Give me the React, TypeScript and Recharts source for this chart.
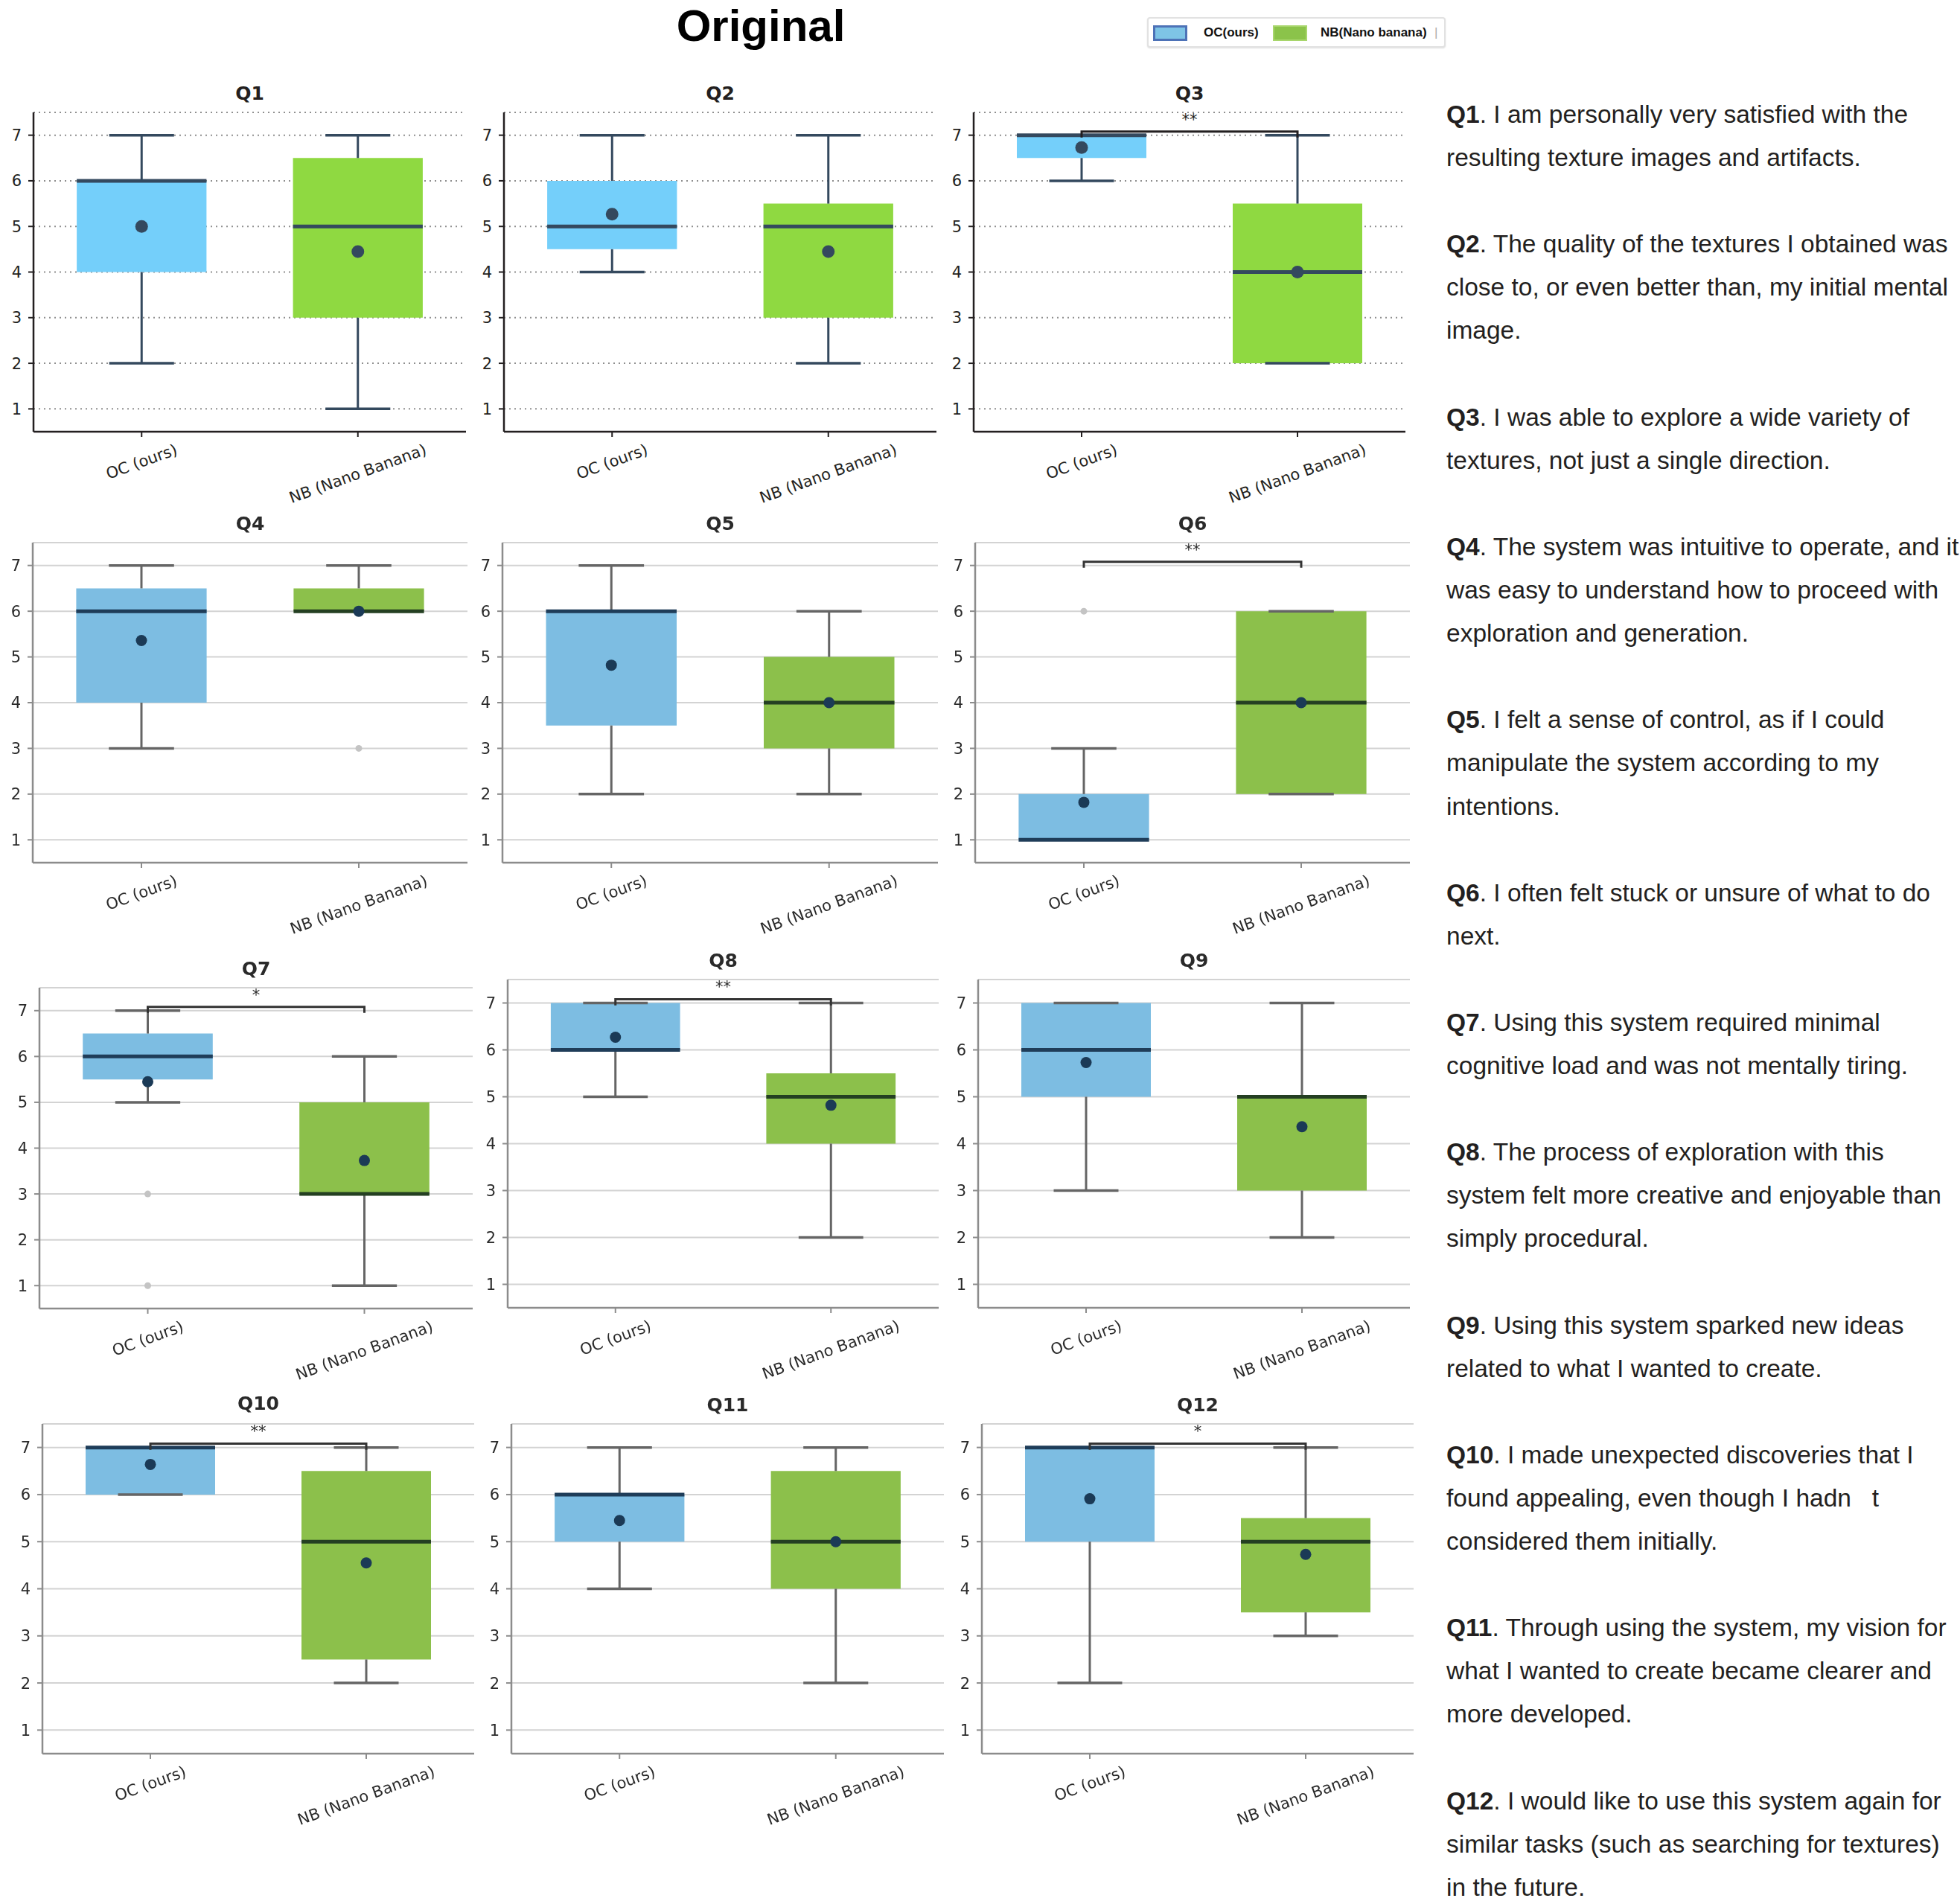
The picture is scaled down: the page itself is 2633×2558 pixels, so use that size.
import React from 'react';
import {
  CartesianGrid,
  ComposedChart,
  Line,
  ReferenceArea,
  ReferenceLine,
  Scatter,
  XAxis,
  YAxis
} from 'recharts';

const questions = ['Q1', 'Q2', 'Q3', 'Q4', 'Q5', 'Q6', 'Q7', 'Q8', 'Q9', 'Q10', 'Q11', 'Q12'];
const groups = ['OC (ours)', 'NB (Nano Banana)'];
const yTicks = [1, 2, 3, 4, 5, 6, 7];

// OC (ours): whisker ends, quartiles, median, mean, fliers
const ocLow = [2, 4, 6, 3, 2, 1, 5, 5, 3, 6, 4, 2];
const ocQ1 = [4, 4.5, 6.5, 4, 3.5, 1, 5.5, 6, 5, 6, 5, 5];
const ocMedian = [6, 5, 7, 6, 6, 1, 6, 6, 6, 7, 6, 7];
const ocQ3 = [6, 6, 7, 6.5, 6, 2, 6.5, 7, 7, 7, 6, 7];
const ocHigh = [7, 7, 7, 7, 7, 3, 7, 7, 7, 7, 7, 7];
const ocMean = [5.0, 5.27, 6.73, 5.36, 4.82, 1.82, 5.45, 6.27, 5.73, 6.64, 5.45, 5.91];
const ocOutliers = [[], [], [], [], [], [6], [3, 1], [], [], [], [], []];

// NB (Nano Banana)
const nbLow = [1, 2, 2, 6, 2, 2, 1, 2, 2, 2, 2, 3];
const nbQ1 = [3, 3, 2, 6, 3, 2, 3, 4, 3, 2.5, 4, 3.5];
const nbMedian = [5, 5, 4, 6, 4, 4, 3, 5, 5, 5, 5, 5];
const nbQ3 = [6.5, 5.5, 5.5, 6.5, 5, 6, 5, 5.5, 5, 6.5, 6.5, 5.5];
const nbHigh = [7, 7, 7, 7, 6, 6, 6, 7, 7, 7, 7, 7];
const nbMean = [4.45, 4.45, 4.0, 6.0, 4.0, 4.0, 3.73, 4.82, 4.36, 4.55, 5.0, 4.73];
const nbOutliers = [[], [], [], [3], [], [], [], [], [], [], [], []];

const significance = ['', '', '**', '', '', '**', '*', '**', '', '**', '', '*'];

const descriptions = [
  ['I am personally very satisfied with the', 'resulting texture images and artifacts.'],
  ['The quality of the textures I obtained was', 'close to, or even better than, my initial mental', 'image.'],
  ['I was able to explore a wide variety of', 'textures, not just a single direction.'],
  ['The system was intuitive to operate, and it', 'was easy to understand how to proceed with', 'exploration and generation.'],
  ['I felt a sense of control, as if I could', 'manipulate the system according to my', 'intentions.'],
  ['I often felt stuck or unsure of what to do', 'next.'],
  ['Using this system required minimal', 'cognitive load and was not mentally tiring.'],
  ['The process of exploration with this', 'system felt more creative and enjoyable than', 'simply procedural.'],
  ['Using this system sparked new ideas', 'related to what I wanted to create.'],
  ['I made unexpected discoveries that I', 'found appealing, even though I hadn   t', 'considered them initially.'],
  ['Through using the system, my vision for', 'what I wanted to create became clearer and', 'more developed.'],
  ['I would like to use this system again for', 'similar tasks (such as searching for textures)', 'in the future.']
];

// plot-area frames on the page (y domain 0.5..7.5, x domain -0.5..1.5)
const frames = [
  { left: 45, right: 626, top: 151, bottom: 580, titleY: 126 },
  { left: 677, right: 1258, top: 151, bottom: 580, titleY: 126 },
  { left: 1308, right: 1888, top: 151, bottom: 580, titleY: 126 },
  { left: 44, right: 628, top: 729, bottom: 1159, titleY: 704 },
  { left: 675, right: 1260, top: 729, bottom: 1159, titleY: 704 },
  { left: 1310, right: 1894, top: 729, bottom: 1159, titleY: 704 },
  { left: 53, right: 635, top: 1327, bottom: 1758, titleY: 1302 },
  { left: 682, right: 1261, top: 1316, bottom: 1757, titleY: 1291 },
  { left: 1314, right: 1894, top: 1316, bottom: 1757, titleY: 1291 },
  { left: 57, right: 637, top: 1913, bottom: 2356, titleY: 1886 },
  { left: 687, right: 1268, top: 1913, bottom: 2356, titleY: 1888 },
  { left: 1319, right: 1899, top: 1913, bottom: 2356, titleY: 1888 }
];

const crisp = {
  fills: ['#74cffa', '#8fd941'],
  medians: ['#34495e', '#34495e'],
  whisker: '#34495e',
  mean: '#34495e',
  axis: '#231f20',
  grid: '#8f8f8f',
  gridDash: '2 5',
  text: '#231f20',
  flier: '#bdbdbd',
  bracket: '#231f20'
};

const soft = {
  fills: ['#7dbde2', '#8cc04b'],
  medians: ['#1f3d59', '#243f22'],
  whisker: '#656565',
  mean: '#1b3a56',
  axis: '#8c8c8c',
  grid: '#d3d3d3',
  gridDash: undefined,
  text: '#2a2a2a',
  flier: '#c4c4c4',
  bracket: '#333333'
};

const FONT = '"DejaVu Sans", sans-serif';
const Y_AXIS_W = 60;
const X_AXIS_H = 120;
const MARGIN_TOP = 4;
const MARGIN_RIGHT = 8;

let measureCtx: CanvasRenderingContext2D | null = null;
const textWidth = (s: string, font: string) => {
  if (!measureCtx && typeof document !== 'undefined') {
    measureCtx = document.createElement('canvas').getContext('2d');
  }
  if (!measureCtx) return s.length * 12;
  measureCtx.font = font;
  return measureCtx.measureText(s).width;
};

// rotated category label, anchored so the rotated box hangs below the tick
const GroupTick = (props: any) => {
  const { x, y, payload, fill } = props;
  const label = groups[payload.value] ?? '';
  const angle = (20 * Math.PI) / 180;
  const w = textWidth(label, `21px ${FONT}`);
  const cy = y + 5 + (w * Math.sin(angle) + 24 * Math.cos(angle)) / 2;
  return (
    <text
      x={x}
      y={cy}
      textAnchor="middle"
      dominantBaseline="central"
      fontSize={21}
      fontFamily={FONT}
      fill={fill}
      transform={`rotate(-20, ${x}, ${cy})`}
    >
      {label}
    </text>
  );
};

function Panel({ idx }: { idx: number }) {
  const f = frames[idx];
  const isSoft = idx >= 3;
  const t = isSoft ? soft : crisp;
  const width = f.right - f.left + Y_AXIS_W + MARGIN_RIGHT;
  const height = f.bottom - f.top + MARGIN_TOP + X_AXIS_H;

  const stats = [
    { lo: ocLow[idx], q1: ocQ1[idx], med: ocMedian[idx], q3: ocQ3[idx], hi: ocHigh[idx] },
    { lo: nbLow[idx], q1: nbQ1[idx], med: nbMedian[idx], q3: nbQ3[idx], hi: nbHigh[idx] }
  ];
  const means = [
    { x: 0, y: ocMean[idx] },
    { x: 1, y: nbMean[idx] }
  ];
  const fliers = [
    ...ocOutliers[idx].map((v) => ({ x: 0, y: v })),
    ...nbOutliers[idx].map((v) => ({ x: 1, y: v }))
  ];
  const sig = significance[idx];
  const bracket = [
    { x: 0, y: 6.95 },
    { x: 0, y: 7.08 },
    { x: 1, y: 7.08 },
    { x: 1, y: 6.95 }
  ];
  const blur = isSoft ? 'blur(0.6px)' : undefined;

  return (
    <>
      <div
        style={{
          position: 'absolute',
          left: f.left,
          width: f.right - f.left,
          top: f.titleY - 17,
          height: 34,
          lineHeight: '34px',
          textAlign: 'center',
          fontFamily: FONT,
          fontWeight: 'bold',
          fontSize: 25,
          color: t.text,
          filter: blur
        }}
      >
        {questions[idx]}
      </div>
      <div
        style={{
          position: 'absolute',
          left: f.left - Y_AXIS_W,
          top: f.top - MARGIN_TOP,
          filter: blur
        }}
      >
        <ComposedChart
          width={width}
          height={height}
          margin={{ top: MARGIN_TOP, right: MARGIN_RIGHT, bottom: 0, left: 0 }}
        >
          <CartesianGrid
            vertical={false}
            stroke={t.grid}
            strokeWidth={2}
            strokeDasharray={t.gridDash}
          />
          <XAxis
            type="number"
            dataKey="x"
            domain={[-0.5, 1.5]}
            ticks={[0, 1]}
            allowDataOverflow
            height={X_AXIS_H}
            tickSize={7}
            tickMargin={0}
            interval={0}
            axisLine={{ stroke: t.axis, strokeWidth: 2.5 }}
            tickLine={{ stroke: t.axis, strokeWidth: 2 }}
            tick={(p: any) => <GroupTick {...p} fill={t.text} />}
          />
          <YAxis
            type="number"
            dataKey="y"
            domain={[0.5, 7.5]}
            ticks={yTicks}
            allowDataOverflow
            width={Y_AXIS_W}
            tickSize={7}
            tickMargin={9}
            axisLine={{ stroke: t.axis, strokeWidth: 2.5 }}
            tickLine={{ stroke: t.axis, strokeWidth: 2 }}
            tick={{ fill: t.text, fontSize: 21, fontFamily: FONT }}
          />

          {stats.map((s, i) => (
            <ReferenceArea
              key={`box-${i}`}
              x1={i - 0.3}
              x2={i + 0.3}
              y1={s.q1}
              y2={s.q3}
              fill={t.fills[i]}
              fillOpacity={1}
              stroke="none"
            />
          ))}
          {stats.map((s, i) =>
            s.lo < s.q1 ? (
              <ReferenceLine
                key={`wl-${i}`}
                segment={[{ x: i, y: s.lo }, { x: i, y: s.q1 }]}
                stroke={t.whisker}
                strokeWidth={3}
              />
            ) : null
          )}
          {stats.map((s, i) =>
            s.hi > s.q3 ? (
              <ReferenceLine
                key={`wh-${i}`}
                segment={[{ x: i, y: s.q3 }, { x: i, y: s.hi }]}
                stroke={t.whisker}
                strokeWidth={3}
              />
            ) : null
          )}
          {stats.map((s, i) => (
            <ReferenceLine
              key={`cl-${i}`}
              segment={[{ x: i - 0.15, y: s.lo }, { x: i + 0.15, y: s.lo }]}
              stroke={t.whisker}
              strokeWidth={3.5}
            />
          ))}
          {stats.map((s, i) => (
            <ReferenceLine
              key={`ch-${i}`}
              segment={[{ x: i - 0.15, y: s.hi }, { x: i + 0.15, y: s.hi }]}
              stroke={t.whisker}
              strokeWidth={3.5}
            />
          ))}
          {stats.map((s, i) => (
            <ReferenceLine
              key={`med-${i}`}
              segment={[{ x: i - 0.3, y: s.med }, { x: i + 0.3, y: s.med }]}
              stroke={t.medians[i]}
              strokeWidth={5}
            />
          ))}

          {sig && (
            <Line
              data={bracket}
              dataKey="y"
              type="linear"
              stroke={t.bracket}
              strokeWidth={3}
              dot={false}
              activeDot={false}
              isAnimationActive={false}
            />
          )}
          {sig && (
            <Scatter
              data={[{ x: 0.5, y: 7.34, label: sig }]}
              isAnimationActive={false}
              shape={(p: any) => (
                <text
                  x={p.cx}
                  y={p.cy}
                  textAnchor="middle"
                  dominantBaseline="central"
                  fontSize={21}
                  fontFamily={FONT}
                  fill={t.text}
                >
                  {p.payload.label}
                </text>
              )}
            />
          )}

          {fliers.length > 0 && (
            <Scatter
              data={fliers}
              isAnimationActive={false}
              shape={(p: any) => <circle cx={p.cx} cy={p.cy} r={4.5} fill={t.flier} />}
            />
          )}
          <Scatter
            data={means}
            isAnimationActive={false}
            shape={(p: any) => <circle cx={p.cx} cy={p.cy} r={isSoft ? 7.5 : 8.5} fill={t.mean} />}
          />
        </ComposedChart>
      </div>
    </>
  );
}

function Legend() {
  const text: React.CSSProperties = {
    position: 'absolute',
    top: 0,
    height: 37,
    lineHeight: '37px',
    fontFamily: '"Liberation Sans Narrow", "Liberation Sans", Arial, sans-serif',
    fontWeight: 'bold',
    fontSize: 17,
    color: '#111',
    whiteSpace: 'pre'
  };
  return (
    <div
      style={{
        position: 'absolute',
        left: 1541,
        top: 23,
        width: 397,
        height: 37,
        border: '2px solid #e2e2e2',
        borderRadius: 4,
        boxShadow: '0 1px 2px rgba(0,0,0,0.12)',
        background: '#fff'
      }}
    >
      <div
        style={{
          position: 'absolute',
          left: 6,
          top: 9,
          width: 40,
          height: 15,
          background: '#7ec4e6',
          border: '3px solid #4d72b7'
        }}
      />
      <div style={{ ...text, left: 74 }}>OC(ours)</div>
      <div
        style={{
          position: 'absolute',
          left: 167,
          top: 9,
          width: 42,
          height: 17,
          background: '#8bc34a',
          border: '2px solid #a8d66c'
        }}
      />
      <div style={{ ...text, left: 231 }}>NB(Nano banana)</div>
      <div style={{ ...text, left: 384, fontWeight: 'normal', color: '#aaa' }}>|</div>
    </div>
  );
}

const LINE_STEP = 58.1;
const LINE_BOX = 38;

function Descriptions() {
  const rows: React.ReactNode[] = [];
  descriptions.forEach((lines, qi) => {
    lines.forEach((line, li) => {
      rows.push(
        <div
          key={`${qi}-${li}`}
          style={{ height: LINE_BOX, lineHeight: `${LINE_BOX}px`, marginBottom: LINE_STEP - LINE_BOX }}
        >
          {li === 0 ? (
            <>
              <b>{questions[qi]}</b>. {line}
            </>
          ) : (
            line
          )}
        </div>
      );
    });
    if (qi < descriptions.length - 1) {
      rows.push(<div key={`gap-${qi}`} style={{ height: LINE_STEP }} />);
    }
  });
  return (
    <div
      style={{
        position: 'absolute',
        left: 1943,
        top: 154 - LINE_BOX / 2,
        fontFamily: '"Liberation Sans", Arial, sans-serif',
        fontSize: 33.5,
        color: '#231f20',
        whiteSpace: 'pre'
      }}
    >
      {rows}
    </div>
  );
}

export default function App() {
  return (
    <div
      style={{
        position: 'absolute',
        left: 0,
        top: 0,
        width: 2633,
        height: 2558,
        overflow: 'hidden',
        background: '#fff'
      }}
    >
      <div
        style={{
          position: 'absolute',
          left: 822,
          width: 400,
          top: 1,
          textAlign: 'center',
          fontFamily: '"Liberation Sans", Arial, sans-serif',
          fontWeight: 'bold',
          fontSize: 60,
          lineHeight: '67px',
          color: '#000'
        }}
      >
        Original
      </div>
      <Legend />
      {questions.map((_, i) => (
        <Panel key={i} idx={i} />
      ))}
      <Descriptions />
    </div>
  );
}
